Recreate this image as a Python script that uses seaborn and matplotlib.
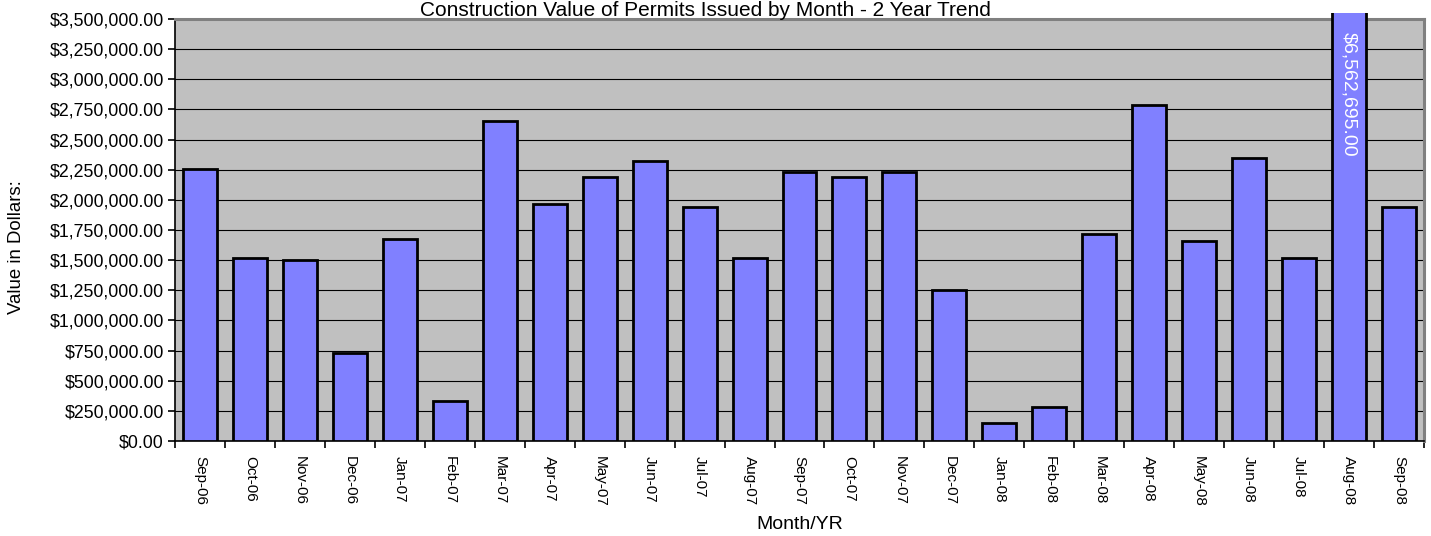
import matplotlib
matplotlib.use("Agg")
import matplotlib.pyplot as plt
from matplotlib.patches import Rectangle
from matplotlib.ticker import FuncFormatter, FixedLocator
import seaborn as sns
import pandas as pd
import numpy as np

# data
months = ["Sep-06", "Oct-06", "Nov-06", "Dec-06", "Jan-07", "Feb-07", "Mar-07", "Apr-07",
          "May-07", "Jun-07", "Jul-07", "Aug-07", "Sep-07", "Oct-07", "Nov-07", "Dec-07",
          "Jan-08", "Feb-08", "Mar-08", "Apr-08", "May-08", "Jun-08", "Jul-08", "Aug-08", "Sep-08"]
values = [2255000, 1517000, 1500000, 730000, 1675000, 332000, 2653000, 1965000,
          2190000, 2320000, 1940000, 1517000, 2230000, 2190000, 2230000, 1252000,
          150000, 282000, 1716000, 2786000, 1660000, 2347000, 1517000, 6562695, 1940000]
y_ticks = list(range(0, 3500001, 250000))
peak_label = "$6,562,695.00"

df = pd.DataFrame({"month": months, "value": values})

sns.set_style("white")
plt.rcParams["font.family"] = ["Liberation Sans", "DejaVu Sans"]
plt.rcParams["text.color"] = "black"
plt.rcParams["axes.labelcolor"] = "black"
plt.rcParams["xtick.color"] = "black"
plt.rcParams["ytick.color"] = "black"

fig = plt.figure(figsize=(14.31, 5.36), dpi=100)
ax = fig.add_axes([0.1223, 0.1772, 0.8728, 0.7874])
ax.set_facecolor("#C0C0C0")

sns.barplot(data=df, x="month", y="value", color="#8080FF", saturation=1,
            edgecolor="black", linewidth=2, width=0.68, ax=ax, zorder=3)

ax.set_ylim(0, 3500000)
ax.set_xlim(-0.5, len(months) - 0.5)

# the big Aug-08 bar runs just past the plot area
peak = int(np.argmax(values))
clip = Rectangle((0, 0), 1, 1.013, transform=ax.transAxes)
ax.patches[peak].set_clip_path(clip)
ax.text(peak, 3390000, peak_label, rotation=270, color="white", fontsize=14,
        ha="center", va="top", zorder=5)

# grid
ax.yaxis.set_major_locator(FixedLocator(y_ticks))
ax.yaxis.set_major_formatter(FuncFormatter(lambda v, p: "${:,.2f}".format(v)))
ax.grid(axis="y", color="black", linewidth=0.8, zorder=1)
ax.set_axisbelow(True)

# category ticks between bars, labels centered under bars
ax.set_xticks(np.arange(-0.5, len(months), 1.0))
ax.set_xticklabels([])
ax.set_xticks(np.arange(len(months)), minor=True)
ax.set_xticklabels(months, minor=True, rotation=270, fontsize=11)
ax.tick_params(axis="x", which="major", bottom=True, direction="out", length=5, width=1.2)
ax.tick_params(axis="x", which="minor", bottom=True, length=0, pad=11)
ax.tick_params(axis="y", left=True, direction="out", length=5, width=1.2,
               labelsize=12.8, pad=3)

for s in ["left", "bottom"]:
    ax.spines[s].set_color("black")
    ax.spines[s].set_linewidth(1.2)
for s in ["top", "right"]:
    ax.spines[s].set_color("#808080")
    ax.spines[s].set_linewidth(2.2)

ax.set_xlabel("Month/YR", fontsize=14)
ax.xaxis.set_label_coords(0.5, -0.178)
ax.set_ylabel("Value in Dollars:", fontsize=13.4)
ax.yaxis.set_label_coords(-0.12, 0.46)

fig.text(0.493, 1 - 16 / 536, "Construction Value of Permits Issued by Month - 2 Year Trend",
         ha="center", va="baseline", fontsize=15)

fig.savefig("out.png", dpi=100)
